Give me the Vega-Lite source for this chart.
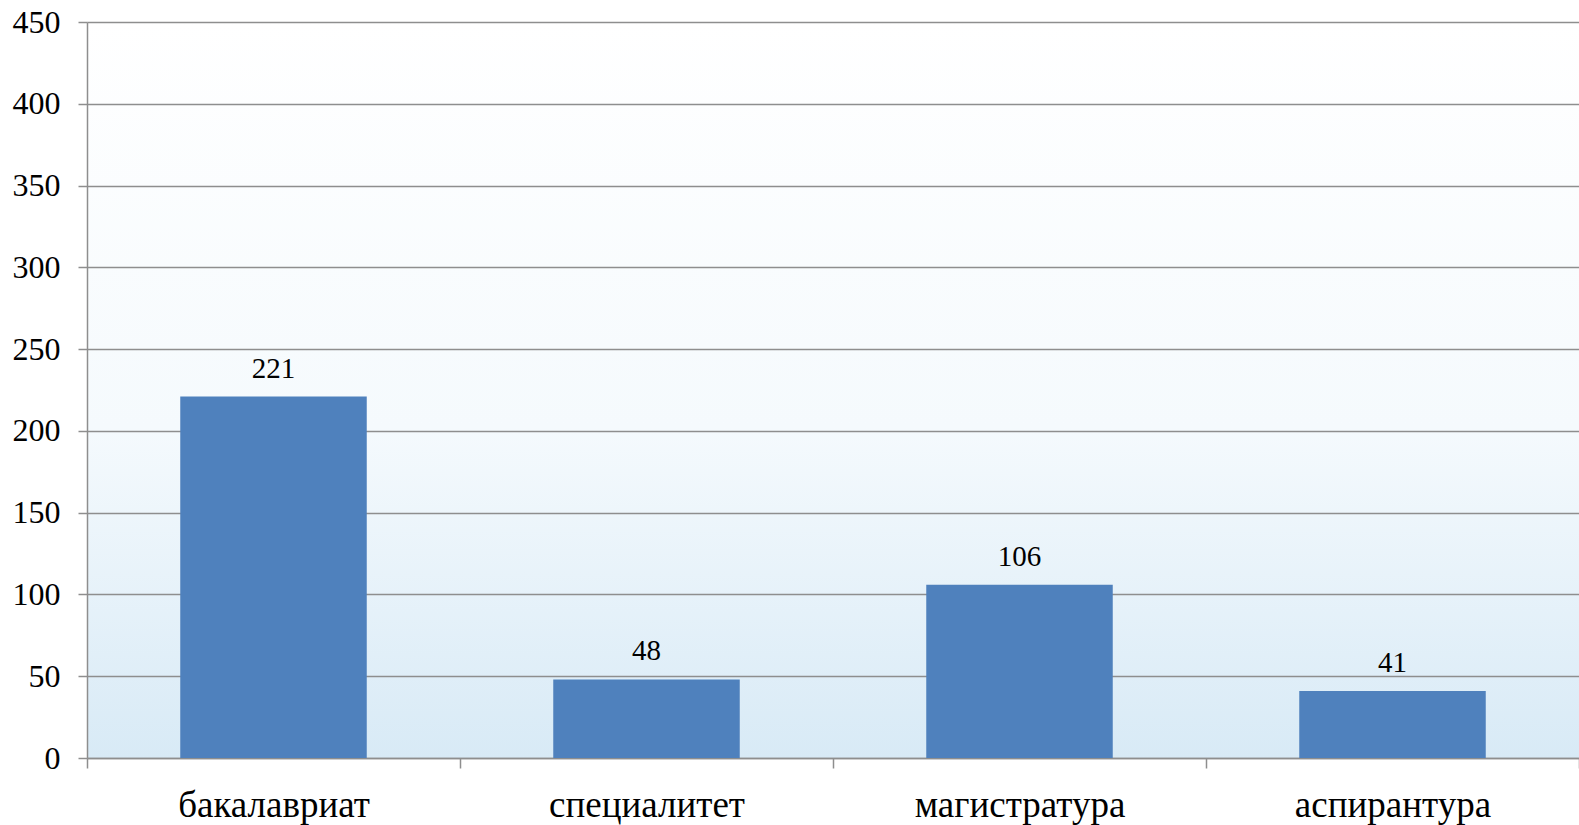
{
  "$schema": "https://vega.github.io/schema/vega-lite/v6.json",
  "autosize": {"type": "none"},
  "padding": {"left": 87, "top": 22, "right": 0, "bottom": 67},
  "width": 1492,
  "height": 736,
  "background": "#ffffff",
  "data": {"values": [
    {"level": "бакалавриат", "count": 221},
    {"level": "специалитет", "count": 48},
    {"level": "магистратура", "count": 106},
    {"level": "аспирантура", "count": 41}
  ]},
  "encoding": {
    "x": {"field": "level", "type": "nominal", "sort": null,
      "scale": {"paddingInner": 0, "paddingOuter": 0},
      "axis": {"title": null, "labelAngle": 0, "labelFontSize": 37, "labelColor": "#000000", "labelLimit": 0,
        "labelPadding": 19, "tickBand": "extent", "tickSize": 10, "tickColor": "#8e8e8e", "tickWidth": 1.5,
        "domain": true, "domainColor": "#8e8e8e", "domainWidth": 1.5, "grid": false}},
    "y": {"field": "count", "type": "quantitative",
      "scale": {"domain": [0, 450], "nice": false},
      "axis": {"title": null, "values": [0, 50, 100, 150, 200, 250, 300, 350, 400, 450],
        "labelFontSize": 32, "labelColor": "#000000", "labelPadding": 18,
        "tickSize": 9, "tickColor": "#8e8e8e", "tickWidth": 1.5,
        "grid": true, "gridColor": "#8e8e8e", "gridWidth": 1.5,
        "domain": true, "domainColor": "#8e8e8e", "domainWidth": 1.5}}
  },
  "layer": [
    {"mark": {"type": "bar", "color": "#4f81bd", "width": {"band": 0.5}}},
    {"mark": {"type": "text", "baseline": "alphabetic", "dy": -19, "fontSize": 29, "color": "#000000"},
      "encoding": {"text": {"field": "count", "type": "quantitative"}}}
  ],
  "config": {
    "font": "Liberation Serif",
    "view": {"stroke": null, "fill": {"gradient": "linear", "x1": 0, "y1": 0, "x2": 0, "y2": 1,
      "stops": [{"offset": 0, "color": "#ffffff"}, {"offset": 0.55, "color": "#f5fafd"}, {"offset": 1, "color": "#d8eaf6"}]}}
  }
}
